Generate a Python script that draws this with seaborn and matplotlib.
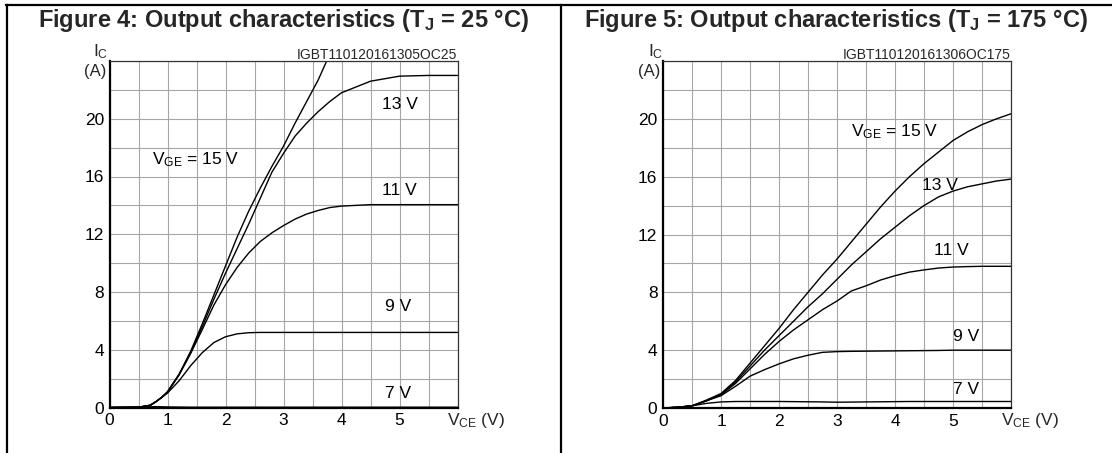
import numpy as np
import pandas as pd
import matplotlib
matplotlib.use("Agg")
import matplotlib.pyplot as plt
import seaborn as sns
from matplotlib.lines import Line2D

# ---------------- data ----------------
v_25 = [0, 0.5, 0.7, 0.8, 0.9, 1.0, 1.2, 1.4, 1.6, 1.8, 2.0, 2.2, 2.4, 2.6, 2.8,
        3.0, 3.2, 3.4, 3.6, 3.8, 4.0, 4.5, 5.0, 5.5, 6.0]
i_25_15v = [0, 0.02, 0.15, 0.4, 0.7, 1.1, 2.3, 3.9, 5.8, 7.8, 9.8, 11.8, 13.6, 15.2, 16.7,
            18.1, 19.7, 21.2, 22.7, 24.5, np.nan, np.nan, np.nan, np.nan, np.nan]
i_25_13v = [0, 0.02, 0.15, 0.4, 0.7, 1.08, 2.3, 3.8, 5.6, 7.5, 9.3, 11.0, 12.7, 14.5, 16.3,
            17.6, 18.8, 19.7, 20.5, 21.2, 21.8, 22.6, 22.95, 23.0, 23.0]
i_25_11v = [0, 0.02, 0.15, 0.4, 0.7, 1.05, 2.25, 3.75, 5.4, 7.1, 8.5, 9.7, 10.7, 11.5, 12.1,
            12.6, 13.05, 13.4, 13.65, 13.85, 13.95, 14.05, 14.05, 14.05, 14.05]
i_25_9v = [0, 0.02, 0.15, 0.4, 0.7, 1.0, 1.85, 2.9, 3.8, 4.5, 4.9, 5.1, 5.18, 5.2, 5.2,
           5.2, 5.2, 5.2, 5.2, 5.2, 5.2, 5.2, 5.2, 5.2, 5.2]
i_25_7v = [0, 0.02, 0.05, 0.06, 0.05, 0.04, 0.03, 0.02, 0.02, 0.02, 0.02, 0.02, 0.02, 0.02, 0.02,
           0.02, 0.02, 0.02, 0.02, 0.02, 0.02, 0.02, 0.02, 0.02, 0.02]

v_175 = [0, 0.25, 0.5, 0.75, 1.0, 1.25, 1.5, 1.75, 2.0, 2.25, 2.5, 2.75, 3.0, 3.25, 3.5,
         3.75, 4.0, 4.25, 4.5, 4.75, 5.0, 5.25, 5.5, 5.75, 6.0]
i_175_15v = [0, 0.05, 0.15, 0.55, 1.0, 1.9, 3.1, 4.3, 5.5, 6.8, 8.0, 9.2, 10.3, 11.5, 12.7,
             13.9, 15.0, 16.0, 16.9, 17.7, 18.5, 19.1, 19.6, 20.0, 20.35]
i_175_13v = [0, 0.05, 0.15, 0.5, 0.95, 1.8, 2.9, 4.0, 5.0, 6.0, 7.0, 7.9, 8.9, 9.9, 10.8,
             11.7, 12.5, 13.3, 14.0, 14.6, 15.0, 15.3, 15.5, 15.7, 15.83]
i_175_11v = [0, 0.05, 0.15, 0.5, 0.9, 1.7, 2.7, 3.7, 4.6, 5.4, 6.1, 6.8, 7.4, 8.1, 8.45,
             8.85, 9.15, 9.4, 9.55, 9.68, 9.75, 9.78, 9.8, 9.8, 9.8]
i_175_9v = [0, 0.05, 0.15, 0.5, 0.85, 1.5, 2.2, 2.65, 3.05, 3.4, 3.65, 3.85, 3.9, 3.92, 3.93,
            3.94, 3.95, 3.96, 3.97, 3.98, 4.0, 4.0, 4.0, 4.0, 4.0]
i_175_7v = [0, 0.05, 0.15, 0.32, 0.42, 0.45, 0.45, 0.45, 0.45, 0.44, 0.43, 0.42, 0.4, 0.41, 0.42,
            0.43, 0.44, 0.45, 0.45, 0.45, 0.45, 0.45, 0.45, 0.45, 0.45]

vge_levels = ["15 V", "13 V", "11 V", "9 V", "7 V"]
x_ticks = [0, 1, 2, 3, 4, 5]
y_ticks = [0, 4, 8, 12, 16, 20]

titles = [r"Figure 4: Output characteristics ($\mathbf{T_J}$ = 25 °C)",
          r"Figure 5: Output characteristics ($\mathbf{T_J}$ = 175 °C)"]
codes = ["IGBT110120161305OC25", "IGBT110120161306OC175"]

# curve labels (text, x, y)
labels_25 = [(r"$\mathrm{V_{GE}}$ = 15 V", 1.48, 17.2), ("13 V", 5.0, 21.0),
             ("11 V", 5.0, 15.0), ("9 V", 4.97, 7.0), ("7 V", 4.97, 1.0)]
labels_175 = [(r"$\mathrm{V_{GE}}$ = 15 V", 4.0, 19.1), ("13 V", 4.78, 15.4),
              ("11 V", 4.98, 10.9), ("9 V", 5.23, 4.93), ("7 V", 5.23, 1.25)]


def long_df(v, curves):
    rows = []
    for lvl, ivals in zip(vge_levels, curves):
        for x, y in zip(v, ivals):
            rows.append({"V": x, "I": y, "VGE": lvl})
    return pd.DataFrame(rows).dropna()


df25 = long_df(v_25, [i_25_15v, i_25_13v, i_25_11v, i_25_9v, i_25_7v])
df175 = long_df(v_175, [i_175_15v, i_175_13v, i_175_11v, i_175_9v, i_175_7v])

# ---------------- style ----------------
sns.set_theme(style="white")
plt.rcParams["font.family"] = ["Liberation Sans", "DejaVu Sans"]
plt.rcParams["mathtext.fontset"] = "custom"
plt.rcParams["mathtext.rm"] = "Liberation Sans"
plt.rcParams["mathtext.it"] = "Liberation Sans:italic"
plt.rcParams["mathtext.bf"] = "Liberation Sans:bold"

W, H = 1112, 453
fig = plt.figure(figsize=(W / 100, H / 100), dpi=100)
fig.patch.set_facecolor("white")


def fx(px):
    return px / W


def fy(py):
    return 1 - py / H


# frame lines
for (x0, y0, x1, y1) in [(5.5, 5, 1112, 5), (6.5, 5, 6.5, 453), (560.5, 5, 560.5, 453)]:
    fig.add_artist(Line2D([fx(x0), fx(x1)], [fy(y0), fy(y1)], transform=fig.transFigure,
                          color="black", lw=1.6, solid_capstyle="projecting"))

axes_px = [(109.5, 61, 457.5, 407.5), (663, 61, 1011, 408)]
title_cx = [284, 836]
ylab_x = [-0.29, -0.26]
data = [df25, df175]
labels = [labels_25, labels_175]

for k in range(2):
    l, t, r, b = axes_px[k]
    ax = fig.add_axes([fx(l), fy(b), (r - l) / W, (b - t) / H])
    sns.lineplot(data=data[k], x="V", y="I", hue="VGE", palette=["black"] * 5,
                 estimator=None, sort=False, legend=False, lw=1.0, ax=ax)
    ax.set_xlim(0, 6)
    ax.set_ylim(0, 24)
    ax.set_xticks(x_ticks)
    ax.set_xticklabels([str(v) for v in x_ticks])
    ax.set_yticks(y_ticks)
    ax.set_yticklabels([str(v) for v in y_ticks])
    ax.set_xticks(np.arange(0, 6.01, 0.5), minor=True)
    ax.set_yticks(np.arange(0, 24.01, 2), minor=True)
    ax.grid(which="both", color="#a6a6a6", lw=0.8)
    ax.set_axisbelow(True)
    ax.tick_params(which="both", length=0, labelsize=12.5, colors="black", pad=4)
    ax.set_xlabel("")
    ax.set_ylabel("")
    for s in ["left", "bottom"]:
        ax.spines[s].set_color("black")
        ax.spines[s].set_linewidth(1.6)
    for s in ["top", "right"]:
        ax.spines[s].set_color("#333333")
        ax.spines[s].set_linewidth(0.9)

    for (txt, x, y) in labels[k]:
        ax.text(x, y, txt, ha="center", va="center", fontsize=12.5, color="black")

    ax.text(6.0, 24.15, codes[k], ha="right", va="baseline", fontsize=10, clip_on=False)
    ax.text(ylab_x[k], 24.3, r"I$_\mathrm{C}$", ha="left", va="baseline", fontsize=12.5, clip_on=False)
    ax.text(-0.05, 23.25, "(A)", ha="right", va="center", fontsize=12, clip_on=False)
    ax.text(5.82, -1.18, r"$\mathrm{V_{CE}}$ (V)", ha="left", va="baseline", fontsize=12.5, clip_on=False)

    fig.text(fx(title_cx[k]), fy(26.7), titles[k], ha="center", va="baseline",
             fontsize=17, fontweight="bold")

fig.savefig("out.png", dpi=100, facecolor="white")
